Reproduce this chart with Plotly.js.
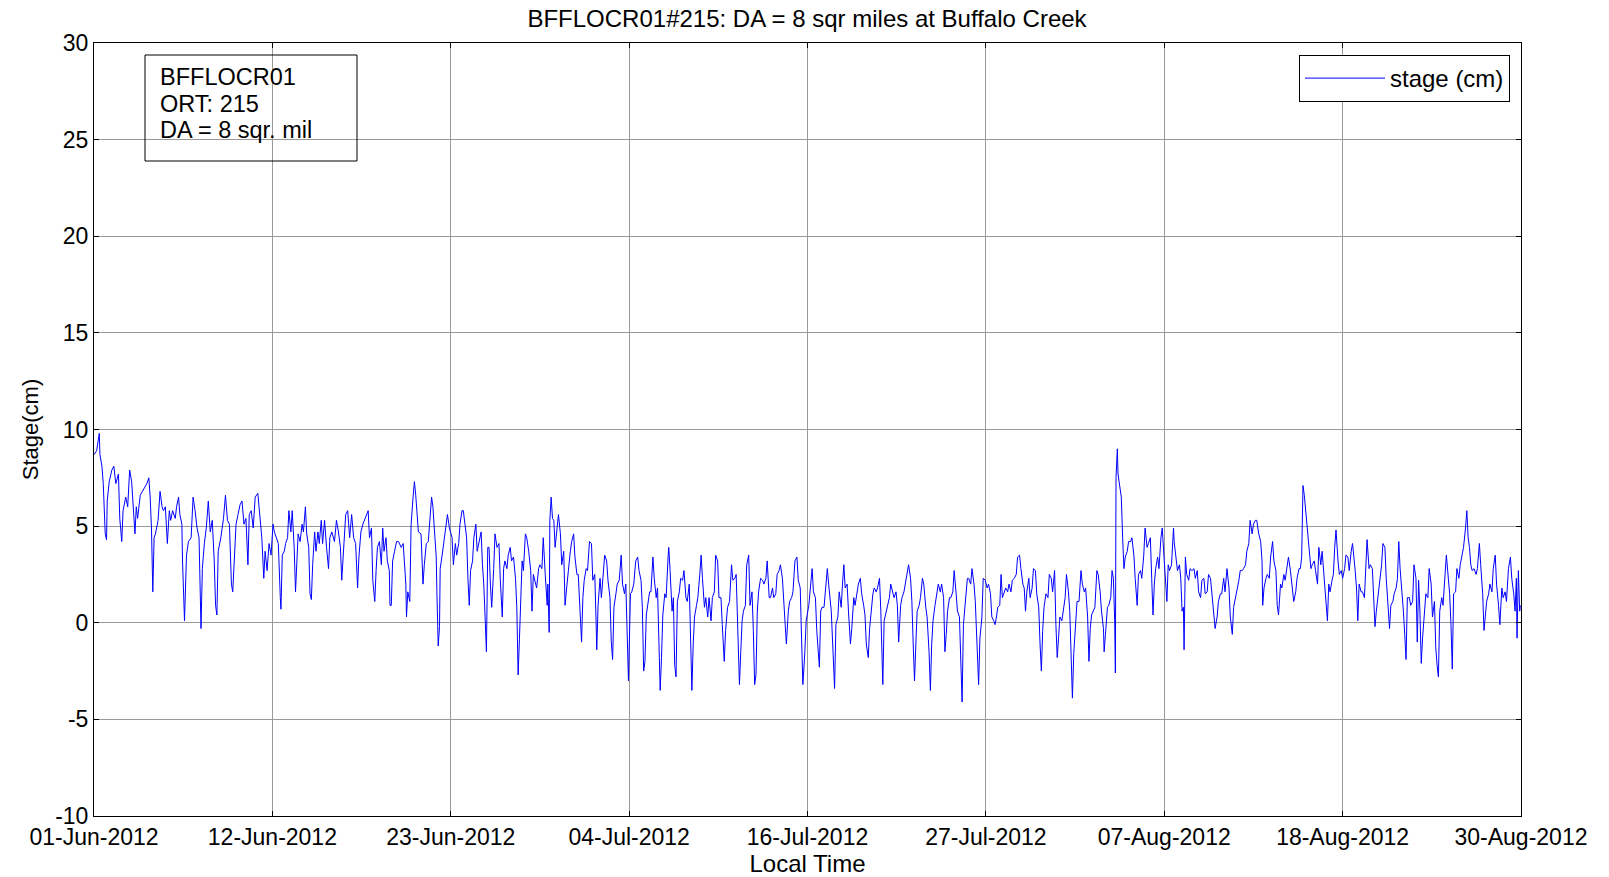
<!DOCTYPE html>
<html>
<head>
<meta charset="utf-8">
<script src="https://cdn.plot.ly/plotly-3.0.1.min.js"></script>
<style>html,body{margin:0;padding:0;background:#fff;}#chart{width:1609px;height:877px;}</style>
</head>
<body>
<div id="chart"></div>
<script>
// Readings: [hours since 01-Jun-2012 00:00, stage (cm)]
const juneReadings = [
[0,8.7],[4,8.9],[8,9.8],[9,8.7],[12,8.1],[14,7.2],[17,4.6],[19,4.3],[20,6.3],[23,7.3],[27,7.9],[30,8.1],[33,7.2],[37,7.7],[39,5.4],[42,4.2],[44,5.8],[48,6.5],[51,6.0],[54,7.9],[57,7.3],[60,5.8],[62,4.6],[64,6.0],[66,5.4],[70,6.6],[73,6.8],[76,7.0],[80,7.2],[83,7.5],[85,6.5],[87,4.9],[89,1.6],[91,4.4],[93,4.6],[97,5.3],[100,6.8],[103,6.0],[105,5.8],[108,6.0],[111,4.1],[114,5.8],[116,5.3],[119,5.8],[123,5.4],[125,6.0],[128,6.5],[130,5.6],[133,5.1],[134,3.2],[137,0.1],[140,3.5],[143,4.2],[147,4.4],[150,6.5],[153,5.8],[156,4.9],[159,4.4],[161,0.9],[162,-0.3],[164,2.8],[167,4.1],[170,4.9],[173,6.3],[176,4.7],[179,5.3],[182,3.2],[184,0.9],[186,0.4],[188,3.7],[192,4.4],[196,5.4],[199,6.6],[202,5.3],[205,5.1],[208,2.0],[210,1.6],[212,3.2],[215,5.1],[218,5.6],[221,6.1],[224,6.3],[227,5.1],[230,5.4],[233,3.0],[235,5.6],[238,5.8],[241,4.9],[244,6.5],[248,6.7],[252,5.3],[254,4.4],[257,2.3],[259,3.7],[262,2.7],[265,4.1],[268,3.5],[271,5.1],[273,4.7],
[276,4.4],[279,4.1],[282,1.3],[283,0.7],[285,3.5],[288,3.7],[290,4.1],[293,4.4],[295,5.8],[298,4.7],[300,5.8],[303,3.9],[305,1.6],[307,3.4],[309,4.6],[312,4.2],[315,5.1],[317,4.7],[320,6.0],[322,4.6],[325,3.9],[327,1.5],[329,1.2],[331,3.0],[334,4.7],[336,3.7],[339,4.7],[341,4.1],[344,5.3],[346,4.1],[349,5.3],[352,3.9],[355,2.8],[357,4.4],[360,4.7],[364,4.2],[367,5.3],[370,4.7],[373,3.9],[375,2.2],[378,4.1],[381,5.6],[384,5.8],[387,4.4],[390,5.6],[393,4.4],[396,4.1],[399,1.8],[401,3.4],[404,4.7],[407,5.1],[409,5.3],[412,5.6],[415,5.8],[417,4.4],[420,4.9],[422,2.2],[425,1.1],[427,2.7],[429,3.9],[432,4.2],[435,3.0],[437,4.9],[439,3.7],[442,4.4],[444,3.2],[447,2.7],[448,0.9],[450,0.9],[452,3.2],[455,3.7],[458,4.2],[461,4.2],[465,3.9],[468,4.1],[470,3.0],[472,2.0],[473,0.3],[475,1.6],[478,1.1],[480,5.1],[483,6.5],[485,7.3],[487,6.6],[489,5.8],[491,4.7],[495,4.6],[497,2.7],[498,2.0],[500,3.0],[503,4.1],[506,4.2],[509,5.4],[511,6.5],[513,6.0],[516,4.7],[518,3.4],[519,1.6],[521,-1.2],[523,-0.2],[524,2.8],[527,3.5],[529,4.1],[532,4.7],[535,5.6],[538,4.9],
[542,4.4],[544,3.0],[547,4.1],[549,3.5],[552,4.1],[554,5.1],[557,5.8],[559,5.8],[562,5.1],[564,4.4],[566,2.3],[568,0.9],[570,2.7],[573,3.2],[575,4.4],[578,5.1],[580,3.7],[583,4.2],[586,4.7],[588,3.0],[590,2.0],[592,0.3],[594,-1.5],[596,3.9],[598,3.9],[600,2.0],[602,0.8],[605,2.8],[607,4.6],[610,3.9],[613,4.1],[615,2.2],[618,0.3],[620,2.8],[622,3.2],[625,2.8],[627,3.5],[630,3.9],[632,3.2],[635,3.4],[638,2.3],[640,0.8],[642,-2.7],[644,-0.8],[646,1.5],[648,3.2],[650,2.7],[653,4.6],[655,4.4],[658,3.7],[661,2.7],[663,0.6],[665,2.5],[668,2.0],[670,1.8],[673,2.8],[675,3.0],[678,2.8],[680,4.4],[683,2.5],[686,0.9],[687,2.0],[689,-0.5],[690,5.3],[692,6.5],[694,5.4],[696,5.3],[698,3.9],[701,4.9],[703,5.6],[706,4.6],[708,3.0],[711,3.7],[713,0.9],[716,2.0],[718,2.8]
];
const julyReadings = [
[721,3.7],[723,4.2],[726,4.6],[728,3.4],[731,2.5],[733,2.5],[736,0.6],[738,-1.0],[740,1.3],[742,2.2],[745,2.8],[747,2.7],[750,4.2],[753,4.1],[755,2.2],[758,2.5],[760,0.1],[761,-1.4],[763,0.9],[766,2.3],[768,1.3],[771,2.5],[773,3.5],[776,3.2],[778,2.2],[781,1.3],[783,-1.0],[785,-1.9],[787,0.8],[790,1.5],[792,2.0],[795,2.2],[798,3.5],[800,2.0],[803,1.5],[805,2.0],[807,-1.1],[809,-3.0],[812,1.5],
[814,1.6],[817,2.0],[820,3.2],[823,3.4],[825,2.7],[828,2.2],[830,0.8],[832,-2.5],[834,-2.0],[836,0.4],[838,0.9],[841,1.6],[843,1.6],[846,3.4],[848,2.3],[851,1.3],[853,1.8],[855,-1.1],[857,-3.5],[859,-1.8],[861,0.4],[864,1.5],[866,1.3],[869,3.4],[870,3.9],[872,2.7],[875,0.6],[877,1.3],[879,-2.2],[881,-2.8],[883,1.1],[886,1.6],[888,2.3],[891,2.2],[893,2.7],[896,1.3],[898,1.1],[901,2.0],[903,-0.8],[905,-3.5],[907,-1.1],[909,0.3],[912,0.9],[914,1.3],[917,2.5],[919,3.5],[921,2.3],[924,0.8],[926,1.3],[929,0.3],[931,1.3],[934,0.1],[936,1.3],[939,1.6],[941,3.5],[944,3.2],[946,1.3],[949,1.3],[951,-0.1],[954,-2.0],[956,-0.4],[959,0.8],[962,1.1],[965,3.0],[967,2.2],[970,2.3],[972,2.5],[975,-1.1],[977,-3.2],[979,-1.5],[981,0.1],[983,0.6],[986,0.9],[988,3.0],[991,3.5],[993,0.9],[996,1.6],[998,-0.4],[1000,-3.2],[1002,-2.7],[1004,0.6],[1006,1.6],[1009,2.3],[1012,2.2],[1014,2.0],[1017,2.3],[1019,3.2],[1022,1.3],[1024,1.3],[1027,1.8],[1029,1.3],[1032,1.5],[1034,2.5],[1037,2.7],[1039,3.0],[1042,2.3],[1044,1.3],[1046,-0.1],[1048,-1.1],[1051,0.6],[1053,1.1],[1056,1.3],[1058,1.6],[1061,3.2],[1064,3.4],[1066,2.2],[1069,1.8],[1071,-0.8],[1073,-3.2],[1076,-1.5],[1078,0.1],[1082,0.9],[1085,2.2],[1087,2.8],
[1089,1.6],[1092,1.3],[1094,-0.4],[1096,-1.3],[1098,-2.3],[1100,0.6],[1102,0.8],[1105,0.8],[1107,1.5],[1110,2.8],[1112,2.0],[1114,1.3],[1116,0.6],[1118,-1.0],[1121,-3.4],[1123,-0.1],[1126,0.3],[1128,1.6],[1131,0.8],[1133,2.0],[1135,3.0],[1137,1.8],[1140,2.0],[1142,0.6],[1145,-1.1],[1147,-0.3],[1150,1.3],[1152,0.9],[1155,1.5],[1157,2.0],[1160,2.3],[1162,1.5],[1165,0.9],[1167,0.4],[1169,-1.1],[1172,-1.8],[1174,-0.3],[1176,0.6],[1179,1.5],[1181,1.8],[1184,1.6],[1186,1.8],[1189,2.3],[1191,0.6],[1193,-1.5],[1194,-3.2],[1196,0.1],[1199,0.6],[1201,0.9],[1204,1.3],[1206,2.0],[1209,1.6],[1211,1.3],[1214,1.6],[1216,0.9],[1218,-1.0],[1221,0.9],[1223,1.3],[1226,1.6],[1228,2.0],[1231,2.5],[1233,3.0],[1236,2.3],[1238,1.1],[1240,-1.1],[1242,-3.0],[1244,-1.1],[1246,0.6],[1249,0.9],[1251,1.3],[1254,2.3],[1256,2.0],[1259,0.8],[1261,0.3],[1264,-1.5],[1266,-3.5],[1268,-1.1],[1270,0.1],[1273,0.9],[1276,1.5],[1278,2.0],[1281,1.6],[1283,2.0],[1286,1.3],[1288,-1.5],[1290,-0.6],[1292,0.6],[1295,1.3],[1297,1.3],[1300,1.6],[1302,2.7],[1305,1.5],[1307,0.6],[1310,0.3],[1312,-1.6],[1314,-4.1],[1316,-0.1],[1319,1.1],[1322,2.3],[1324,2.3],[1327,2.0],[1329,2.8],[1332,2.0],[1334,1.1],[1337,-1.5],[1339,-3.2],[1341,-0.8],[1344,0.3],[1346,2.3],[1349,2.2],[1352,1.8],[1354,2.0],[1357,1.5],[1359,0.3],[1362,0.1],
[1364,-0.1],[1366,0.3],[1368,0.8],[1371,0.9],[1373,2.5],[1375,1.3],[1378,1.6],[1380,1.8],[1383,1.6],[1385,2.0],[1388,1.6],[1390,2.2],[1393,2.3],[1396,2.5],[1398,3.4],[1401,3.5],[1403,2.8],[1406,2.0],[1408,1.8],[1410,0.6],[1412,1.6],[1415,2.3],[1417,1.3],[1420,1.8],[1422,2.8],[1425,2.7],[1427,1.5],[1430,0.8],[1432,-1.1],[1434,-2.5],[1436,-0.4],[1438,0.8],[1441,1.5],[1444,1.3],[1446,2.5],[1449,2.3],[1451,1.6],[1454,2.7],[1456,-0.1],[1458,-1.8],[1460,-0.8],[1462,0.3]
];
const augustReadings = [
[1465,0.1],[1467,0.6],[1470,1.3],[1472,2.5],[1475,1.6],[1477,0.6],[1479,-2.2],[1481,-3.9],[1483,-1.6],[1486,0.1],[1488,1.1],[1491,1.1],[1494,2.7],[1496,2.0],[1499,1.6],[1501,1.8],[1504,0.3],[1506,-2.0],[1508,-0.3],[1510,0.4],[1513,0.6],[1515,0.8],[1518,2.7],[1520,2.5],[1523,1.6],[1525,0.6],[1528,-0.3],[1529,-1.5],[1531,-0.6],[1534,0.8],[1536,0.9],[1539,1.3],[1541,2.7],[1543,2.3],[1545,0.1],[1546,-2.6],[1547,7.5],[1549,9.0],[1550,7.7],[1552,7.2],[1555,6.5],[1557,4.4],[1559,2.8],[1561,3.4],[1564,3.7],[1566,4.2],[1569,4.2],[1571,4.4],[1574,3.5],[1576,2.3],[1579,0.9],[1581,2.5],[1584,2.7],[1586,2.3],[1589,3.5],[1591,4.9],[1594,3.9],[1596,4.1],[1599,4.4],[1601,2.3],[1603,0.4],[1605,2.0],[1607,2.8],[1610,3.4],[1612,2.8],[1615,4.4],[1617,4.9],[1620,3.2],[1622,2.3],[1624,1.1],[1626,3.0],[1628,2.7],[1631,3.0],
[1634,4.9],[1635,4.2],[1638,3.2],[1640,2.7],[1643,3.0],[1645,2.3],[1647,0.6],[1649,0.8],[1650,-1.4],[1652,3.4],[1654,2.5],[1657,2.2],[1659,2.8],[1662,2.7],[1665,2.8],[1667,2.3],[1670,2.7],[1672,1.6],[1675,1.3],[1677,2.2],[1680,2.3],[1682,1.5],[1685,1.6],[1687,2.5],[1690,2.3],[1692,1.6],[1695,0.3],[1697,-0.3],[1700,0.3],[1702,1.1],[1705,1.5],[1707,1.5],[1710,2.3],[1712,1.6],[1715,2.8],[1718,1.8],[1720,0.3],[1723,-0.6],[1725,0.8],[1728,1.3],[1730,1.6],[1733,2.2],[1735,2.7],[1738,2.7],[1740,2.8],[1743,3.0],[1745,3.7],[1748,4.1],[1750,5.3],[1753,4.6],[1755,5.1],[1758,5.3],[1760,5.3],[1763,4.6],[1766,4.2],[1768,3.2],[1769,0.9],[1771,1.8],[1774,2.3],[1776,2.5],[1779,2.3],[1781,3.4],[1784,4.2],[1786,3.2],[1789,2.7],[1791,0.9],[1793,0.4],[1796,2.0],[1798,1.8],[1801,2.5],[1803,2.2],[1806,3.0],[1808,3.4],[1811,2.7],[1813,2.0],[1816,1.1],[1819,1.6],[1821,2.3],[1824,2.8],[1826,2.8],[1828,3.4],[1830,7.1],[1832,6.6],[1834,5.8],[1836,5.4],[1838,4.4],[1840,3.4],[1842,2.8],[1844,3.0],[1847,3.2],[1849,2.7],[1852,2.0],[1854,3.9],[1857,3.0],[1859,3.7],[1862,2.3],[1864,1.6],[1867,0.1],[1869,2.0],[1871,1.6],[1874,2.2],[1876,2.5],[1878,3.9],[1880,4.8],[1883,3.2],[1885,2.5],[1888,2.7],[1890,2.3],[1893,2.8],[1895,3.5],[1898,3.4],[1900,2.7],[1903,3.7],[1905,4.1],
[1909,2.7],[1911,1.8],[1913,0.1],[1915,2.0],[1918,1.6],[1920,1.6],[1923,1.3],[1925,2.8],[1927,4.3],[1930,2.8],[1932,3.0],[1935,2.8],[1937,0.9],[1939,-0.2],[1941,0.6],[1944,1.6],[1946,2.0],[1949,3.0],[1951,4.1],[1954,3.9],[1956,2.3],[1959,0.8],[1961,-0.3],[1963,0.9],[1966,1.1],[1968,1.5],[1971,1.8],[1973,2.3],[1975,4.2],[1977,2.8],[1979,2.0],[1982,0.6],[1984,-0.6],[1986,-1.9],[1988,1.3],[1991,1.3],[1993,0.9],[1996,1.1],[1998,3.0],[2001,2.3],[2003,-1.0],[2005,2.2],[2007,0.6],[2009,-2.1],[2011,-0.8],[2014,0.9],[2016,1.5],[2019,1.3],[2021,2.8],[2024,2.0],[2026,0.3],[2029,1.1],[2031,-1.3],[2033,-2.2],[2035,-2.8],[2037,0.6],[2040,1.3],[2042,0.9],[2045,2.7],[2047,3.5],[2050,2.3],[2052,1.5],[2054,-0.1],[2056,-2.4],[2058,1.5],[2061,1.6],[2063,2.8],[2066,2.3],[2068,3.0],[2071,3.5],[2073,3.9],[2076,4.9],[2078,5.8],[2080,4.4],[2082,3.9],[2084,3.0],[2086,2.7],[2089,2.8],[2092,2.5],[2094,2.8],[2097,4.1],[2099,3.0],[2102,1.5],[2104,-0.4],[2106,0.6],[2108,1.1],[2111,1.5],[2113,2.0],[2116,1.6],[2118,2.8],[2121,3.5],[2123,2.0],[2126,0.9],[2128,-0.1],[2131,1.8],[2133,1.3],[2136,1.6],[2138,1.1],[2141,2.8],[2144,3.4],[2146,2.3],[2149,1.5],[2151,0.6],[2153,2.3],[2154,-0.8],[2156,2.7],[2158,0.6],[2159,0.9]
];
const tickDates = ['2012-06-01 00:00','2012-06-12 06:00','2012-06-23 12:00','2012-07-04 18:00','2012-07-16 00:00','2012-07-27 06:00','2012-08-07 12:00','2012-08-18 18:00','2012-08-30 00:00'];
const tickLabels = ['01-Jun-2012','12-Jun-2012','23-Jun-2012','04-Jul-2012','16-Jul-2012','27-Jul-2012','07-Aug-2012','18-Aug-2012','30-Aug-2012'];
const yTickValues = [-10, -5, 0, 5, 10, 15, 20, 25, 30];
const yTickLabels = ['-10', '-5', '0', '5', '10', '15', '20', '25', '30'];
const infoLines = ['BFFLOCR01','ORT: 215','DA = 8 sqr. mil'];
const chartTitle = 'BFFLOCR01#215: DA = 8 sqr miles at Buffalo Creek';
const seriesName = 'stage (cm)';

const start = Date.UTC(2012, 5, 1);
function toDate(h) {
  return new Date(start + h * 3600000).toISOString().replace('T', ' ').slice(0, 19);
}
const readings = juneReadings.concat(julyReadings, augustReadings);
const xs = readings.map(r => toDate(r[0]));
const ys = readings.map(r => r[1]);

const W = 1609, H = 877;
const L = 94, R = 88, T = 43, B = 61;
const pw = W - L - R, ph = H - T - B;
const px = v => (v - L) / pw;
const py = v => (H - B - v) / ph;
const FONT = 'Liberation Sans, Arial, sans-serif';
const f = s => ({family: FONT, size: s, color: '#000'});

const annotations = infoLines.map((t, i) => ({
  text: t, xref: 'paper', yref: 'paper',
  x: px(158), y: py([77, 104, 130][i]), xanchor: 'left', yanchor: 'middle',
  showarrow: false, font: f(23.5)
}));

const layout = {
  width: W, height: H,
  margin: {l: L, r: R, t: T, b: B},
  paper_bgcolor: '#fff', plot_bgcolor: '#fff',
  font: f(23),
  title: {text: chartTitle, font: f(24),
          x: px(807), xanchor: 'center', xref: 'paper', y: 1 - 18.5 / H, yanchor: 'middle', yref: 'container'},
  xaxis: {
    type: 'date', range: [tickDates[0], tickDates[tickDates.length - 1]],
    tickmode: 'array', tickvals: tickDates, ticktext: tickLabels,
    ticks: 'inside', ticklen: 5, tickcolor: '#000', mirror: 'ticks',
    showline: true, linecolor: '#000', linewidth: 1,
    showgrid: true, gridcolor: '#9a9a9a', gridwidth: 1, zeroline: false,
    tickfont: f(23),
    title: {text: 'Local Time', font: f(24), standoff: 9},
    automargin: false
  },
  yaxis: {
    range: [-10, 30], tickmode: 'array', tickvals: yTickValues, ticktext: yTickLabels,
    ticks: 'inside', ticklen: 5, tickcolor: '#000', mirror: 'ticks',
    showline: true, linecolor: '#000', linewidth: 1,
    showgrid: true, gridcolor: '#9a9a9a', gridwidth: 1, zeroline: false,
    tickfont: f(23),
    title: {text: 'Stage(cm)', font: f(22), standoff: 10},
    automargin: false
  },
  showlegend: true,
  legend: {
    x: px(1510), y: py(55), xanchor: 'right', yanchor: 'top',
    bgcolor: '#fff', bordercolor: '#000', borderwidth: 1,
    font: f(24), itemwidth: 80
  },
  shapes: [{
    type: 'rect', xref: 'paper', yref: 'paper',
    x0: px(145), x1: px(357), y0: py(161), y1: py(55),
    line: {color: '#000', width: 1}, fillcolor: 'rgba(0,0,0,0)'
  }],
  annotations: annotations
};

Plotly.newPlot('chart', [{
  type: 'scatter', mode: 'lines', x: xs, y: ys, name: seriesName,
  line: {color: '#0000ff', width: 1}
}], layout, {displayModeBar: false, staticPlot: true});
</script>
</body>
</html>
